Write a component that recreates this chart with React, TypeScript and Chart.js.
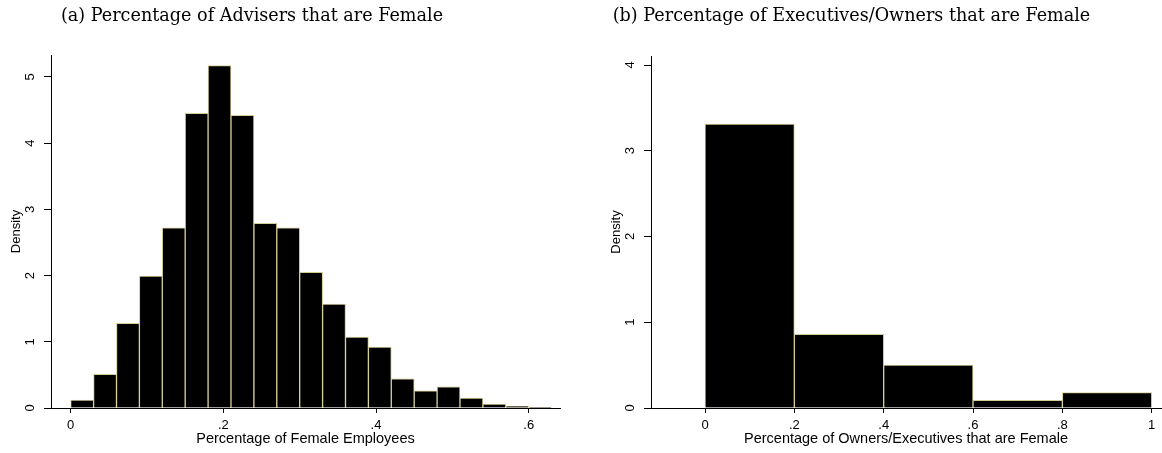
import React, { useEffect, useRef } from 'react';
import { Chart, registerables } from 'chart.js';

Chart.register(...registerables);

// ---------- data ----------
const adviserBinMids = [0.015, 0.045, 0.075, 0.105, 0.135, 0.165, 0.195, 0.225, 0.255, 0.285, 0.315, 0.345, 0.375, 0.405, 0.435, 0.465, 0.495, 0.525, 0.555, 0.585, 0.615];
const adviserDensity = [0.12, 0.51, 1.28, 1.99, 2.72, 4.45, 5.17, 4.42, 2.79, 2.72, 2.05, 1.57, 1.07, 0.92, 0.44, 0.26, 0.32, 0.15, 0.06, 0.03, 0.015];
const adviserXTicks = [0, 0.2, 0.4, 0.6];
const adviserYTicks = [0, 1, 2, 3, 4, 5];

const ownerBinMids = [0.1, 0.3, 0.5, 0.7, 0.9];
const ownerDensity = [3.31, 0.86, 0.5, 0.09, 0.18];
const ownerXTicks = [0, 0.2, 0.4, 0.6, 0.8, 1];
const ownerYTicks = [0, 1, 2, 3, 4];

const adviserCaption = '(a) Percentage of Advisers that are Female';
const ownerCaption = '(b) Percentage of Executives/Owners that are Female';
const adviserXTitle = 'Percentage of Female Employees';
const ownerXTitle = 'Percentage of Owners/Executives that are Female';
const yTitle = 'Density';

// ---------- styling ----------
const SANS = "'Liberation Sans', Arial, sans-serif";
const SERIF = "'DejaVu Serif', serif";
const BAR_EDGE = '#d4cc96';

const fmt = (v: number) => {
  if (v === 0) return '0';
  if (v === 1) return '1';
  return String(+v.toFixed(2)).replace(/^0/, '');
};

const captionPlugin = {
  id: 'caption',
  afterDraw(chart: any, _args: any, opts: any) {
    const ctx = chart.ctx;
    ctx.save();
    ctx.font = opts.font;
    ctx.fillStyle = opts.color || '#000';
    ctx.textAlign = 'center';
    ctx.textBaseline = 'middle';
    ctx.fillText(opts.text, opts.x, opts.y);
    ctx.restore();
  },
};

type HistProps = {
  mids: number[];
  values: number[];
  xTicks: number[];
  yTicks: number[];
  xMin: number;
  xMax: number;
  yMax: number;
  xTitle: string;
  caption: string;
  captionX: number;
  padLeft: number;
  padRight: number;
  padTop: number;
  left: number;
};

function Histogram(p: HistProps) {
  const ref = useRef<HTMLCanvasElement | null>(null);
  useEffect(() => {
    if (!ref.current) return;
    const chart = new Chart(ref.current, {
      type: 'bar',
      data: {
        datasets: [
          {
            data: p.mids.map((m, i) => ({ x: m, y: p.values[i] })),
            backgroundColor: '#000',
            borderColor: BAR_EDGE,
            borderWidth: 1,
            barPercentage: 1,
            categoryPercentage: 1,
          } as any,
        ],
      },
      options: {
        responsive: false,
        animation: false,
        devicePixelRatio: 1,
        layout: { padding: { left: p.padLeft, right: p.padRight, top: p.padTop, bottom: 0 } },
        plugins: {
          legend: { display: false },
          tooltip: { enabled: false },
          caption: { text: p.caption, x: p.captionX, y: 16, font: `17.6px ${SERIF}`, color: '#000' },
        } as any,
        scales: {
          x: {
            type: 'linear',
            min: p.xMin,
            max: p.xMax,
            offset: false,
            afterBuildTicks: (s: any) => {
              s.ticks = p.xTicks.map((v) => ({ value: v }));
            },
            afterFit: (s: any) => {
              s.height = 45;
            },
            grid: { display: true, offset: false, drawOnChartArea: false, drawTicks: true, tickLength: 5, color: '#000' },
            border: { display: true, color: '#000', width: 1, z: 1 },
            ticks: {
              font: { family: SANS, size: 13 },
              color: '#000',
              padding: 5,
              maxRotation: 0,
              autoSkip: false,
              callback: (v: any) => fmt(Number(v)),
            },
            title: {
              display: true,
              text: p.xTitle,
              font: { family: SANS, size: 14.5 },
              color: '#000',
              padding: { top: 0, bottom: 5 },
            },
          },
          y: {
            type: 'linear',
            min: 0,
            max: p.yMax,
            afterBuildTicks: (s: any) => {
              s.ticks = p.yTicks.map((v) => ({ value: v }));
            },
            afterFit: (s: any) => {
              s.width = 51;
            },
            grid: { display: true, drawOnChartArea: false, drawTicks: true, tickLength: 7, color: '#000' },
            border: { display: true, color: '#000', width: 1, z: 1 },
            ticks: {
              font: { family: SANS, size: 13 },
              color: '#000',
              padding: 10,
              minRotation: 90,
              maxRotation: 90,
              crossAlign: 'center',
              autoSkip: false,
              callback: (v: any) => fmt(Number(v)),
            },
            title: {
              display: true,
              text: yTitle,
              font: { family: SANS, size: 13 },
              color: '#000',
              padding: { top: 9, bottom: 0 },
            },
          },
        } as any,
      },
      plugins: [captionPlugin],
    });
    return () => chart.destroy();
  }, []);
  return (
    <canvas
      ref={ref}
      width={581}
      height={453}
      style={{ position: 'absolute', left: p.left, top: 0, width: 581, height: 453, display: 'block' }}
    />
  );
}

export default function App() {
  return (
    <div style={{ position: 'fixed', left: 0, top: 0, width: 1162, height: 453, background: '#fff', overflow: 'hidden' }}>
      <Histogram
        mids={adviserBinMids}
        values={adviserDensity}
        xTicks={adviserXTicks}
        yTicks={adviserYTicks}
        xMin={-0.0258}
        xMax={0.641}
        yMax={5.33}
        xTitle={adviserXTitle}
        caption={adviserCaption}
        captionX={252}
        padLeft={0}
        padRight={21}
        padTop={55}
        left={0}
      />
      <Histogram
        mids={ownerBinMids}
        values={ownerDensity}
        xTicks={ownerXTicks}
        yTicks={ownerYTicks}
        xMin={-0.1209}
        xMax={1.0208}
        yMax={4.105}
        xTitle={ownerXTitle}
        caption={ownerCaption}
        captionX={270.5}
        padLeft={19}
        padRight={1}
        padTop={56}
        left={581}
      />
    </div>
  );
}
